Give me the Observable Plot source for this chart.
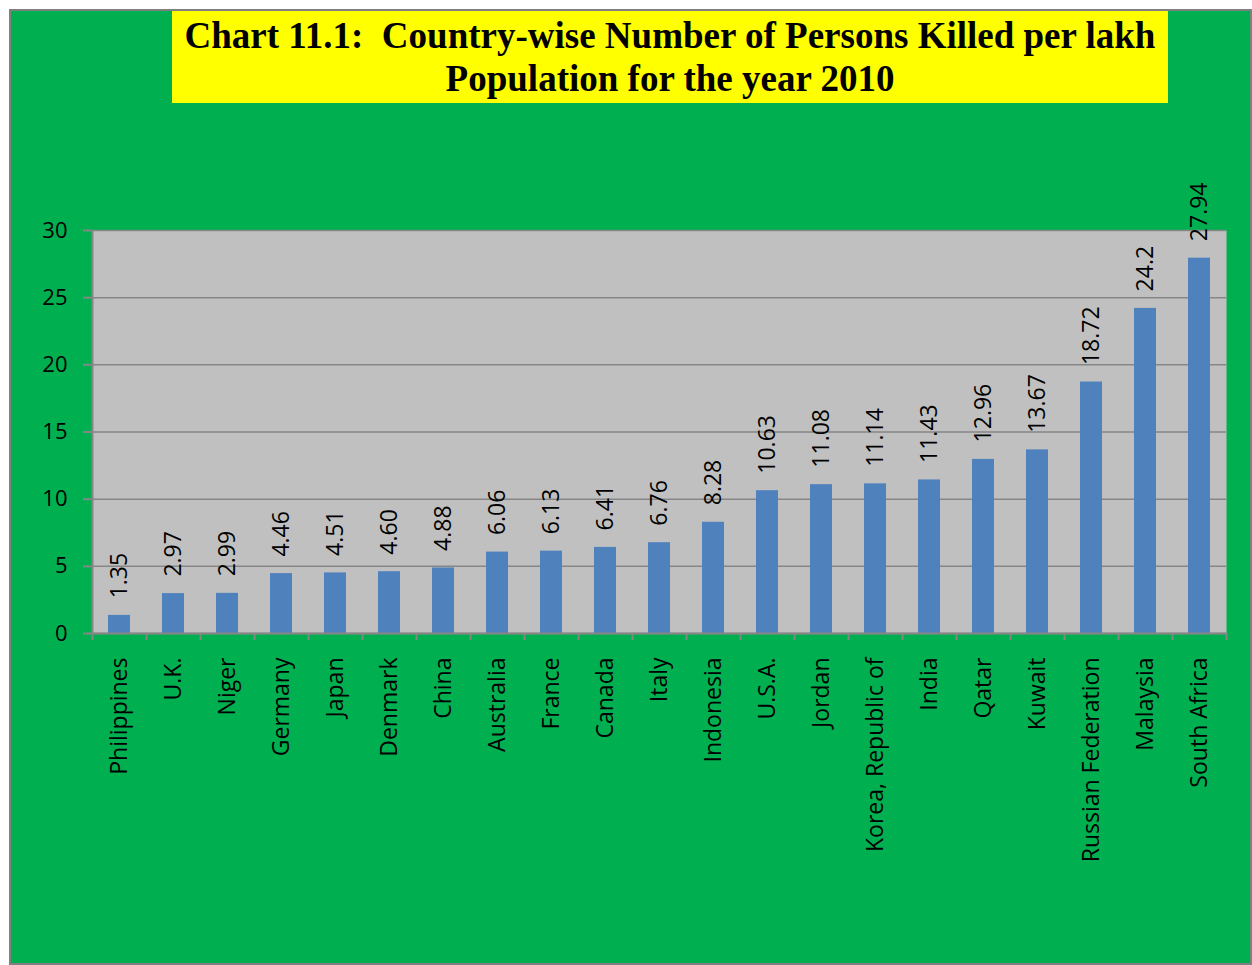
<!DOCTYPE html>
<html>
<head>
<meta charset="utf-8">
<script src="https://cdn.jsdelivr.net/npm/d3@7"></script>
<script src="https://cdn.jsdelivr.net/npm/@observablehq/plot@0.6"></script>
<style>
  html, body { margin: 0; padding: 0; background: #ffffff; }
  #outer { position: absolute; left: 9px; top: 9px; width: 1239px; height: 952px; border: 2px solid #808080; background: #00B050; overflow: hidden; }
  #title { position: absolute; left: 161px; top: 0px; width: 996px; height: 92px; background: #FFFF00;
    font-family: "Liberation Serif", "Times New Roman", serif; font-weight: bold; font-size: 37px; line-height: 43px;
    color: #000; text-align: center; box-sizing: border-box; padding-top: 3px; white-space: nowrap; }
  #chart { position: absolute; left: 0px; top: 92px; }
</style>
</head>
<body>
<div id="outer">
  <div id="title">Chart 11.1:&nbsp; Country-wise Number of Persons Killed per lakh<br>Population for the year 2010</div>
  <div id="chart"></div>
</div>
<script>
const countries = ["Philippines","U.K.","Niger","Germany","Japan","Denmark","China","Australia","France","Canada","Italy","Indonesia","U.S.A.","Jordan","Korea, Republic of","India","Qatar","Kuwait","Russian Federation","Malaysia","South Africa"];
const values = [1.35,2.97,2.99,4.46,4.51,4.60,4.88,6.06,6.13,6.41,6.76,8.28,10.63,11.08,11.14,11.43,12.96,13.67,18.72,24.2,27.94];
const valueLabels = ["1.35","2.97","2.99","4.46","4.51","4.60","4.88","6.06","6.13","6.41","6.76","8.28","10.63","11.08","11.14","11.43","12.96","13.67","18.72","24.2","27.94"];
const yTicks = [0,5,10,15,20,25,30];

const data = countries.map((c, i) => ({country: c, value: values[i], label: valueLabels[i]}));

const W = 1239, H = 860, ML = 81, MR = 24, MT = 127, MB = 330;
const step = (W - ML - MR) / countries.length;
const plotH = H - MT - MB;
const axisGray = "#868686";
const font = "'Open Sans', sans-serif";

const chart = Plot.plot({
  width: W, height: H,
  marginLeft: ML, marginRight: MR, marginTop: MT, marginBottom: MB,
  style: {background: "transparent", fontFamily: font, color: "#000"},
  x: {domain: countries, paddingInner: 0.59, paddingOuter: 0.295, label: null},
  y: {domain: [0, 30], label: null},
  marks: [
    Plot.frame({fill: "#C0C0C0", stroke: null}),
    Plot.gridY(yTicks, {stroke: axisGray, strokeOpacity: 1, strokeWidth: 1.5}),
    Plot.barY(data, {x: "country", y: "value", fill: "#4F81BD"}),
    Plot.ruleY([0], {stroke: axisGray, strokeWidth: 2}),
    Plot.ruleX(countries, {x: d => d, dx: -step / 2, insetBottom: -7, insetTop: plotH, stroke: axisGray, strokeWidth: 2}),
    Plot.ruleX([countries[countries.length - 1]], {x: d => d, dx: step / 2, insetBottom: -7, insetTop: plotH, stroke: axisGray, strokeWidth: 2}),
    Plot.ruleX([countries[0]], {x: d => d, dx: -step / 2, stroke: axisGray, strokeWidth: 2}),
    Plot.axisY({ticks: yTicks, tickSize: 9, tickPadding: 16, stroke: axisGray, strokeWidth: 2, fontSize: 22, fill: "#000", tickFormat: d => d}),
    Plot.axisX({tickSize: 0, tickPadding: 24, tickRotate: -90, fontSize: 23, fill: "#000"}),
    Plot.text(data, {x: "country", y: "value", text: "label", rotate: -90, textAnchor: "start", dy: -17, fontSize: 23, fill: "#000"})
  ]
});
document.getElementById("chart").appendChild(chart);
</script>
</body>
</html>
